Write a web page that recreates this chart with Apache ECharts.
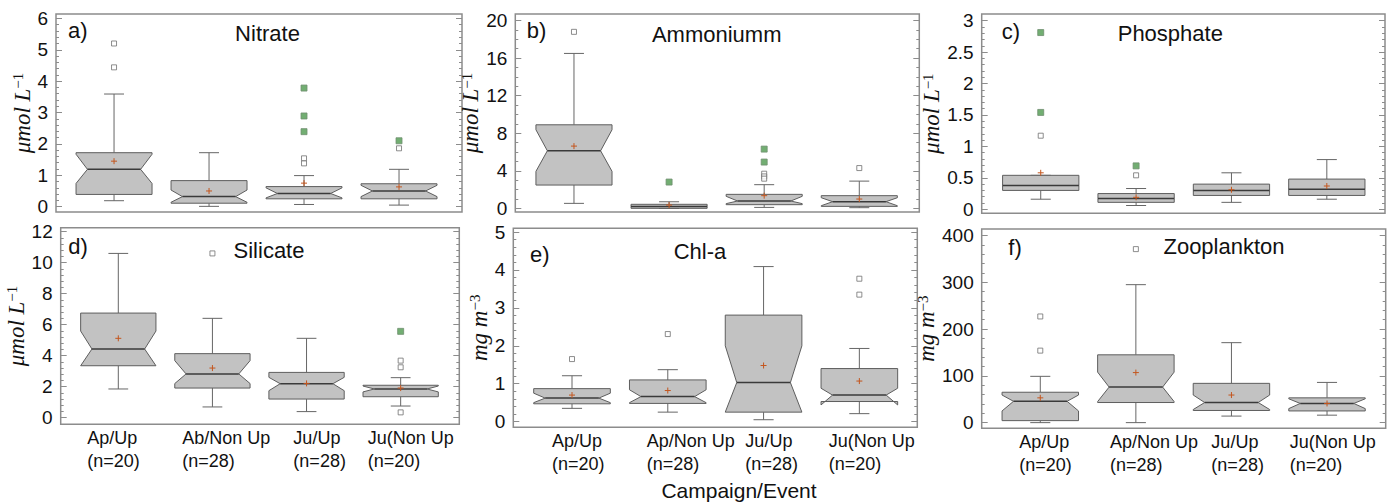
<!DOCTYPE html>
<html><head><meta charset="utf-8">
<script src="https://cdn.jsdelivr.net/npm/echarts@6/dist/echarts.min.js"></script>
<style>html,body{margin:0;padding:0;background:#fff}#c{width:1395px;height:503px}</style>
</head><body><div id="c"></div>
<script>
// ================= DATA =================
const positions = [1, 2, 3, 4];
const labelsD = ['Ap/Up\n(n=20)', 'Ab/Non Up\n(n=28)', 'Ju/Up\n(n=28)', 'Ju(Non Up\n(n=20)'];
const labelsEF = ['Ap/Up\n(n=20)', 'Ap/Non Up\n(n=28)', 'Ju/Up\n(n=28)', 'Ju(Non Up\n(n=20)'];
const xTitle = 'Campaign/Event';

// box stats per group: [whiskerLow, Q1, notchLow, median, notchHigh, Q3, whiskerHigh]
const nitrateBoxes = [[0.19,0.39,0.74,1.19,1.67,1.72,3.59],[0.01,0.11,0.14,0.32,0.53,0.83,1.72],[0.07,0.25,0.28,0.42,0.60,0.64,0.99],[0.05,0.25,0.32,0.50,0.68,0.73,1.19]];
const nitrateMeans = [1.45, 0.50, 0.75, 0.63];
const nitrateOutliers = [[1,5.2],[1,4.44],[3,1.54],[3,1.38],[4,1.86]];
const nitrateExtremes = [[3,3.78],[3,2.89],[3,2.39],[4,2.10]];
const nitrateTicks = [0,1,2,3,4,5,6];

const ammoniumBoxes = [[0.53,2.48,3.94,6.13,8.37,8.90,16.5],[0,0,null,0.20,null,0.43,0.70],[0.10,0.39,0.50,0.78,1.28,1.49,2.52],[0.07,0.21,0.28,0.71,1.13,1.35,2.90]];
const ammoniumMeans = [6.63, 0.35, 1.35, 0.99];
const ammoniumOutliers = [[1,18.8],[3,3.69],[3,3.40],[3,3.16],[4,4.29]];
const ammoniumExtremes = [[2,2.8],[3,6.31],[3,4.93]];
const ammoniumTicks = [0,4,8,12,16,20];

const phosphateBoxes = [[0.16,0.30,null,0.38,null,0.54,0.54],[0.06,0.11,null,0.17,null,0.25,0.33],[0.11,0.22,null,0.30,null,0.40,0.58],[0.16,0.22,null,0.32,null,0.48,0.79]];
const phosphateMeans = [0.58, 0.19, 0.31, 0.37];
const phosphateOutliers = [[1,1.17],[2,0.54]];
const phosphateExtremes = [[1,2.81],[1,1.54],[2,0.69]];
const phosphateTicks = [0,0.5,1,1.5,2,2.5,3];

const silicateBoxes = [[1.85,3.35,3.35,4.43,5.59,6.75,10.6],[0.69,1.91,2.20,2.82,3.68,4.13,6.41],[0.39,1.20,1.74,2.19,2.60,2.92,5.12],[0.75,1.35,1.66,1.85,2.04,2.09,2.58]];
const silicateMeans = [5.12, 3.20, 2.21, 1.91];
const silicateOutliers = [[2,10.6],[4,3.68],[4,3.25],[4,0.34]];
const silicateExtremes = [[4,5.57]];
const silicateTicks = [0,2,4,6,8,10,12];

const chlBoxes = [[0.35,0.47,0.50,0.62,0.75,0.87,1.21],[0.25,0.48,0.50,0.66,0.84,1.10,1.37],[0.05,0.25,0.25,1.03,2.00,2.81,4.09],[0.21,0.53,0.44,0.70,0.88,1.40,1.93]];
const chlMeans = [0.70, 0.82, 1.48, 1.07];
const chlOutliers = [[1,1.65],[2,2.31],[4,3.77],[4,3.35]];
const chlExtremes = [];
const chlTicks = [0,1,2,3,4,5];

const zooBoxes = [[0,4.3,25,45.6,59,65,99],[0,43,45,76,108,145,295],[14,26,28,43,59,84,171],[16,25,30,41,51,53,86]];
const zooMeans = [53, 107, 59, 41];
const zooOutliers = [[1,227],[1,154],[2,371]];
const zooExtremes = [];
const zooTicks = [0,100,200,300,400];

// ================= LAYOUT =================
const panels = [
  {boxes:nitrateBoxes, means:nitrateMeans, out:nitrateOutliers, ext:nitrateExtremes, ticks:nitrateTicks, title:'Nitrate', letter:'a)', unit:'umol',
   rect:[56,14,462,212], y:[-0.17,6.14], x:[0.389,4.663], div:5, nameGap:14, letterPos:[68,30], titlePos:[267.5,33.5]},
  {boxes:ammoniumBoxes, means:ammoniumMeans, out:ammoniumOutliers, ext:ammoniumExtremes, ticks:ammoniumTicks, title:'Ammoniumm', letter:'b)', unit:'umol',
   rect:[515.3,14,919.3,212], y:[-0.39,20.7], x:[0.383,4.631], div:4, nameGap:18, letterPos:[526.7,30], titlePos:[716.7,34]},
  {boxes:phosphateBoxes, means:phosphateMeans, out:phosphateOutliers, ext:phosphateExtremes, ticks:phosphateTicks, title:'Phosphate', letter:'c)', unit:'umol',
   rect:[981.7,14,1385,213.3], y:[-0.064,3.105], x:[0.381,4.61], div:5, nameGap:27, letterPos:[1001.7,31.5], titlePos:[1170.3,33]},
  {boxes:silicateBoxes, means:silicateMeans, out:silicateOutliers, ext:silicateExtremes, ticks:silicateTicks, title:'Silicate', letter:'d)', unit:'umol',
   rect:[60.7,227.7,459.3,424.3], y:[-0.43,12.26], x:[0.388,4.623], div:5, nameGap:23, letterPos:[68.3,246.6], titlePos:[269,250.6],
   labels:labelsD, labelOff:[-0.33,-0.32,-0.14,-0.35]},
  {boxes:chlBoxes, means:chlMeans, out:chlOutliers, ext:chlExtremes, ticks:chlTicks, title:'Chl-a', letter:'e)', unit:'mg',
   rect:[513.3,228.3,917.3,427.3], y:[-0.15,5.1], x:[0.387,4.605], div:5, nameGap:22, letterPos:[530,254], titlePos:[700,251.3],
   labels:labelsEF, labelOff:[-0.21,-0.22,-0.19,-0.32]},
  {boxes:zooBoxes, means:zooMeans, out:zooOutliers, ext:zooExtremes, ticks:zooTicks, title:'Zooplankton', letter:'f)', unit:'mg',
   rect:[981.7,229,1385.7,428.3], y:[-12.1,414], x:[0.387,4.614], div:5, nameGap:37, letterPos:[1008.3,247.3], titlePos:[1224,246.6],
   labels:labelsEF, labelOff:[-0.22,-0.27,-0.21,-0.39]}
];

const BOX_W = 0.8, CAP_W = 0.21, NOTCH_RATIO = 0.7;
const FRAME = '#8c8c8c', TXT = '#111';
const SANS = '"Liberation Sans", Arial, sans-serif';
const SERIF = '"Liberation Serif", "DejaVu Serif", serif';

function fmt(v) { return String(Math.round(v * 1000) / 1000); }

function minorValues(ticks, div) {
  const res = [];
  for (let i = 0; i < ticks.length - 1; i++) {
    const step = (ticks[i + 1] - ticks[i]) / div;
    for (let k = 1; k < div; k++) res.push(ticks[i] + k * step);
  }
  return res;
}

function renderBox(params, api) {
  const x = api.value(0);
  const wl = api.value(1), q1 = api.value(2), nl = api.value(3), md = api.value(4),
        nh = api.value(5), q3 = api.value(6), wh = api.value(7), mean = api.value(8), notched = api.value(9);
  const Y = v => api.coord([x, v])[1];
  const cx = api.coord([x, md])[0];
  const half = api.size([BOX_W, 0])[0] / 2;
  const capHalf = api.size([CAP_W, 0])[0] / 2;
  const inner = notched ? half * NOTCH_RATIO : half;
  const yNL = notched ? Y(nl) : Y(q1), yNH = notched ? Y(nh) : Y(q3);
  const yQ1 = Y(q1), yQ3 = Y(q3), yMd = Y(md), yWL = Y(wl), yWH = Y(wh), yMean = Y(mean);
  const wStyle = {stroke: '#666', lineWidth: 1, fill: null};
  const pts = [[cx-half,yQ3],[cx-half,yNH],[cx-inner,yMd],[cx-half,yNL],[cx-half,yQ1],
               [cx+half,yQ1],[cx+half,yNL],[cx+inner,yMd],[cx+half,yNH],[cx+half,yQ3]];
  return {type: 'group', children: [
    {type:'line', shape:{x1:cx,y1:yQ3,x2:cx,y2:yWH}, style:wStyle},
    {type:'line', shape:{x1:cx,y1:yQ1,x2:cx,y2:yWL}, style:wStyle},
    {type:'line', shape:{x1:cx-capHalf,y1:yWH,x2:cx+capHalf,y2:yWH}, style:wStyle},
    {type:'line', shape:{x1:cx-capHalf,y1:yWL,x2:cx+capHalf,y2:yWL}, style:wStyle},
    {type:'polygon', shape:{points:pts}, style:{fill:'#c2c2c2', stroke:'#5e5e5e', lineWidth:1}},
    {type:'line', shape:{x1:cx-inner,y1:yMd,x2:cx+inner,y2:yMd}, style:{stroke:'#3a3a3a', lineWidth:1.5}},
    {type:'line', shape:{x1:cx-3,y1:yMean,x2:cx+3,y2:yMean}, style:{stroke:'#c4561e', lineWidth:1}},
    {type:'line', shape:{x1:cx,y1:yMean-3,x2:cx,y2:yMean+3}, style:{stroke:'#c4561e', lineWidth:1}}
  ]};
}

const grid = [], xAxis = [], yAxis = [], series = [], graphic = [];

panels.forEach((p, i) => {
  const r = p.rect;
  grid.push({left:r[0], top:r[1], width:r[2]-r[0], height:r[3]-r[1], show:true,
             borderColor:FRAME, borderWidth:1.5, backgroundColor:'transparent'});
  const xa = {type:'value', gridIndex:i, min:p.x[0], max:p.x[1], axisLine:{show:false},
              axisTick:{show:false}, splitLine:{show:false}, axisLabel:{show:false}};
  if (p.labels) {
    const labs = p.labels;
    xa.axisLabel = {show:true, customValues: positions.map((v, k) => v + p.labelOff[k]),
      formatter: v => labs[Math.round(v) - 1], align:'left', fontSize:18, lineHeight:23,
      color:TXT, fontFamily:SANS, margin:2};
  }
  xAxis.push(xa);
  const base = {type:'value', gridIndex:i, min:p.y[0], max:p.y[1], axisLine:{show:false}, splitLine:{show:false}};
  const minors = minorValues(p.ticks, p.div);
  const nameStr = p.unit === 'umol' ? '{it|μmol L}{sup|−1}' : '{it|mg m}{sup|−3}';
  const yMainIdx = yAxis.length;
  yAxis.push(Object.assign({}, base, {position:'left',
    axisTick:{show:true, inside:true, length:6, customValues:p.ticks, lineStyle:{color:FRAME, width:1}},
    axisLabel:{show:true, customValues:p.ticks, formatter:fmt, fontSize:19, color:TXT, fontFamily:SANS, margin:8},
    name:nameStr, nameLocation:'middle', nameGap:p.nameGap,
    nameTextStyle:{rich:{
      it:{fontFamily:SERIF, fontStyle:'italic', fontSize:23, color:TXT},
      sup:{fontFamily:SERIF, fontSize:15, color:TXT, verticalAlign:'top'}
    }}}));
  yAxis.push(Object.assign({}, base, {position:'left',
    axisTick:{show:true, inside:true, length:3, customValues:minors, lineStyle:{color:FRAME, width:1}},
    axisLabel:{show:false}}));
  yAxis.push(Object.assign({}, base, {position:'right',
    axisTick:{show:true, inside:true, length:6, customValues:p.ticks, lineStyle:{color:FRAME, width:1}},
    axisLabel:{show:false}}));
  yAxis.push(Object.assign({}, base, {position:'right',
    axisTick:{show:true, inside:true, length:3, customValues:minors, lineStyle:{color:FRAME, width:1}},
    axisLabel:{show:false}}));

  const boxData = p.boxes.map((b, k) => [positions[k], b[0], b[1], b[2] == null ? b[1] : b[2], b[3],
                                         b[4] == null ? b[5] : b[4], b[5], b[6], p.means[k], b[2] == null ? 0 : 1]);
  series.push({type:'custom', xAxisIndex:i, yAxisIndex:yMainIdx, renderItem:renderBox, data:boxData,
               encode:{x:0, y:[1,7]}, silent:true, z:2});
  series.push({type:'scatter', xAxisIndex:i, yAxisIndex:yMainIdx, data:p.out, symbol:'rect', symbolSize:5,
               itemStyle:{color:'#ffffff', borderColor:'#707070', borderWidth:1}, silent:true, z:3});
  if (p.ext.length) series.push({type:'scatter', xAxisIndex:i, yAxisIndex:yMainIdx, data:p.ext, symbol:'rect', symbolSize:6,
               itemStyle:{color:'#4f9a4f', borderColor:'#6f8f6f', borderWidth:1}, silent:true, z:3});

  graphic.push({type:'text', x:p.letterPos[0], y:p.letterPos[1], silent:true,
    style:{text:p.letter, fontSize:22, fontFamily:SANS, fill:TXT, align:'left', verticalAlign:'middle',
           textAlign:'left', textVerticalAlign:'middle'}});
  graphic.push({type:'text', x:p.titlePos[0], y:p.titlePos[1], silent:true,
    style:{text:p.title, fontSize:22, fontFamily:SANS, fill:TXT, align:'center', verticalAlign:'middle',
           textAlign:'center', textVerticalAlign:'middle'}});
});

graphic.push({type:'text', x:739, y:490, silent:true,
  style:{text:xTitle, fontSize:21, fontFamily:SANS, fill:TXT, align:'center', verticalAlign:'middle',
         textAlign:'center', textVerticalAlign:'middle'}});

const chart = echarts.init(document.getElementById('c'), null, {renderer:'svg'});
chart.setOption({animation:false, backgroundColor:'#ffffff', grid, xAxis, yAxis, series, graphic});
</script>
</body></html>
